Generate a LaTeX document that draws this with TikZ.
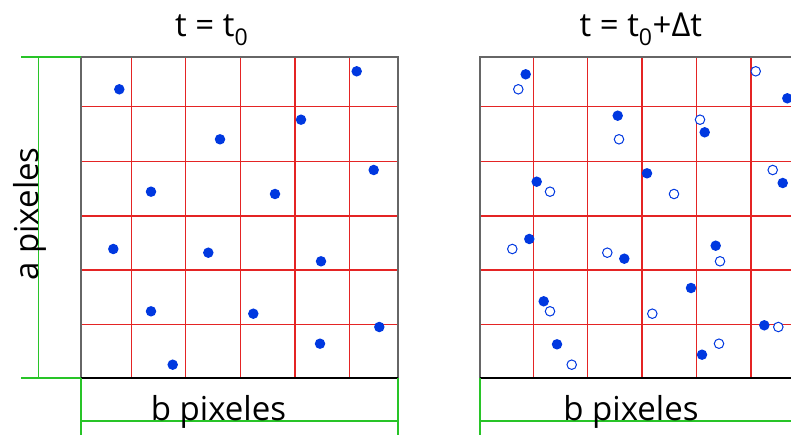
\documentclass[tikz,border=0pt]{standalone}
\usepackage{fontspec}
\setmainfont{Open Sans}
\usetikzlibrary{positioning}
\definecolor{dotblue}{RGB}{0,56,224}
\definecolor{gridred}{RGB}{228,36,36}
\definecolor{dimgreen}{RGB}{40,196,40}
\tikzset{
  grid line/.style={gridred, line width=1.1pt},
  frame/.style={black!60, line width=1.6pt},
  dim line/.style={dimgreen, line width=1.4pt},
  dot/.style={circle, fill=dotblue, inner sep=0pt, minimum size=10.5pt},
  open dot/.style={circle, draw=dotblue, fill=white, line width=1pt, inner sep=0pt, minimum size=9.5pt},
  titletext/.style={font=\fontsize{33}{40}\selectfont, inner sep=0pt, anchor=base},
  dimtext/.style={font=\fontsize{33}{40}\selectfont, inner sep=0pt, anchor=base},
}

\begin{document}
\begin{tikzpicture}[x=1pt, y=-1pt]

  \useasboundingbox (0,0) rectangle (791,435);
  \clip (0,0) rectangle (791,435);

  % Red grids
  \foreach \x in {131.7,185.7,240.3,295,349.3}
    \draw[grid line] (\x,57) -- (\x,378);
  \foreach \x in {533.3,587.7,642,696.3,751}
    \draw[grid line] (\x,57) -- (\x,378);
  \foreach \y in {106.7,161.3,216,270,324.3} {
    \draw[grid line] (81,\y) -- (398,\y);
    \draw[grid line] (480,\y) -- (797,\y);
  }

  % Frames of both images
  \draw[frame] (81,57) rectangle (398,378);
  \draw[frame] (480,57) rectangle (797,378);
  \draw[black, line width=1.6pt] (81,378) -- (398,378);
  \draw[black, line width=1.6pt] (480,378) -- (797,378);

  % Green size lines
  \draw[dim line] (21,57) -- (81,57);
  \draw[dim line] (21,378) -- (81,378);
  \draw[dim line] (38.3,57) -- (38.3,378);
  \draw[dim line] (81,378) -- (81,435);
  \draw[dim line] (398,378) -- (398,435);
  \draw[dim line] (81,421) -- (398,421);
  \draw[dim line] (480,378) -- (480,435);
  \draw[dim line] (480,421) -- (797,421);

  % Particles at t0 (left) and their old places (right, open)
  \foreach \x/\y [count=\i] in {119.3/89.3, 356.7/71.3, 301/119.7, 220/139.3,
      373.7/170, 151/191.7, 275/194, 113.3/249, 208.3/252.7, 321/261.3,
      151/311.3, 253.3/313.7, 379.3/327, 320/343.7, 172.7/364.7} {
    \node[dot] (old\i) at (\x,\y) {};
    \node[open dot] (was\i) at (\x+399,\y) {};
  }

  % Particles at t0+dt
  \foreach \x/\y [count=\i] in {525.7/74.3, 787.3/98.3, 704.7/132.3, 617.7/115.7,
      782.7/183, 536.7/181.7, 647/173.3, 529.3/239, 624.3/258.7, 715.7/245.7,
      543.7/301.3, 691/288, 764.3/325.3, 702/354.7, 557/344.3}
    \node[dot] (new\i) at (\x,\y) {};

  % Labels
  \node[titletext] (tleft) at (211.7,37) {t = t\textsubscript{0}};
  \node[titletext] (tright) at (640.8,37) {t = t\textsubscript{0}+Δt};
  \node[dimtext] (bleft) at (218.5,420) {b pixeles};
  \node[dimtext] (bright) at (631,420) {b pixeles};
  \node[dimtext, rotate=90] (aleft) at (38.3,214) {a pixeles};

\end{tikzpicture}
\end{document}
